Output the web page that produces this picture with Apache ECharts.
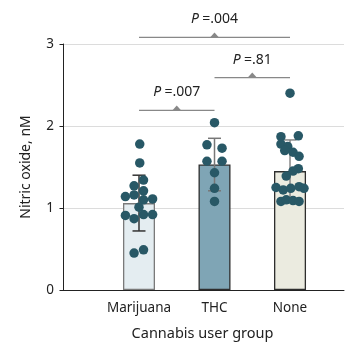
<!DOCTYPE html>
<html><head><meta charset="utf-8">
<script src="https://cdn.jsdelivr.net/npm/echarts@6/dist/echarts.min.js"></script>
<style>html,body{margin:0;padding:0;background:#fff}#c{width:358px;height:346px}</style>
</head><body><div id="c"></div>
<script>
const categories = ['Marijuana', 'THC', 'None'];
const means = [1.06, 1.53, 1.45];
const sds = [0.34, 0.32, 0.38];
const yTicks = [0, 1, 2, 3];
const marijuanaVals = [1.78, 1.55, 1.34, 1.27, 1.21, 1.16, 1.14, 1.10, 1.11, 1.01, 0.91, 0.87, 0.92, 0.92, 0.45, 0.49];
const marijuanaJitter = [0.01, 0.01, 0.06, -0.065, 0.06, -0.065, -0.18, 0.06, 0.18, 0, -0.18, -0.065, 0.06, 0.18, -0.065, 0.06];
const thcVals = [2.04, 1.77, 1.73, 1.57, 1.57, 1.43, 1.24, 1.08];
const thcJitter = [0, -0.10, 0.10, -0.10, 0.10, 0, 0, 0];
const noneVals = [2.40, 1.87, 1.88, 1.78, 1.75, 1.70, 1.68, 1.63, 1.48, 1.45, 1.39, 1.25, 1.22, 1.24, 1.26, 1.24, 1.08, 1.10, 1.09, 1.08];
const noneJitter = [0, -0.12, 0.11, -0.12, -0.03, -0.07, 0.04, 0.12, 0.11, 0.04, -0.05, -0.185, -0.09, 0.01, 0.12, 0.185, -0.12, -0.05, 0.04, 0.12];
const pFrom = [1, 2, 1];
const pTo = [3, 3, 2];
const pLevel = [3.08, 2.59, 2.19];
const pText = ['.004', '.81', '.007'];

const barFill = ['#e4edf1', '#7fa5b5', '#ebebe0'];
const barBorder = ['#7a7a7a', '#2e2e2e', '#2e2e2e'];
const errColor = ['#333333', '#777777', '#888888'];
const FONT = 'Noto Sans';

const groups = [marijuanaVals, thcVals, noneVals];
const jit = [marijuanaJitter, thcJitter, noneJitter];
const dots = [];
groups.forEach((g, gi) => g.forEach((v, i) => dots.push([gi + 1 + jit[gi][i], v])));

const chart = echarts.init(document.getElementById('c'), null, {renderer: 'canvas'});
chart.setOption({
  animation: false,
  grid: {left: 61, right: 14, top: 44, bottom: 50},
  xAxis: {
    type: 'value', min: -0.033, max: 3.715,
    name: 'Cannabis user group', nameLocation: 'middle', nameGap: 36,
    nameTextStyle: {fontFamily: FONT, fontSize: 14.5, color: '#222'},
    axisLine: {show: true, onZero: false, lineStyle: {color: '#222', width: 1}},
    axisTick: {show: false},
    splitLine: {show: false},
    axisLabel: {customValues: [1, 2, 3], formatter: v => categories[Math.round(v) - 1] || '',
      fontFamily: FONT, fontSize: 13.5, color: '#222', margin: 11}
  },
  yAxis: {
    type: 'value', min: 0, max: 3, interval: 1,
    name: 'Nitric oxide, nM', nameLocation: 'middle', nameGap: 28,
    nameTextStyle: {fontFamily: FONT, fontSize: 14, color: '#222'},
    axisLine: {show: true, lineStyle: {color: '#222', width: 1}},
    axisTick: {show: true, length: 4, lineStyle: {color: '#222'}},
    splitLine: {show: true, lineStyle: {color: '#dcdcdc', width: 1}},
    axisLabel: {customValues: yTicks, fontFamily: FONT, fontSize: 13.5, color: '#222', margin: 7}
  },
  series: [
    {
      type: 'bar', barWidth: 32, z: 2,
      data: means.map((m, i) => ({value: [i + 1, m], itemStyle: {color: barFill[i], borderColor: barBorder[i], borderWidth: 1.3}}))
    },
    {
      type: 'custom', z: 3, clip: false,
      data: means.map((m, i) => [i + 1, m, sds[i]]),
      renderItem: (params, api) => {
        const i = params.dataIndex;
        const x = api.value(0), m = api.value(1), s = api.value(2);
        const top = api.coord([x, m + s]), bot = api.coord([x, m - s]);
        const st = {stroke: errColor[i], lineWidth: 1.5};
        return {type: 'group', children: [
          {type: 'line', shape: {x1: top[0], y1: top[1], x2: bot[0], y2: bot[1]}, style: st},
          {type: 'line', shape: {x1: top[0] - 6.5, y1: top[1], x2: top[0] + 6.5, y2: top[1]}, style: st},
          {type: 'line', shape: {x1: bot[0] - 6.5, y1: bot[1], x2: bot[0] + 6.5, y2: bot[1]}, style: st}
        ]};
      }
    },
    {
      type: 'scatter', z: 4, symbolSize: 9.5,
      itemStyle: {color: '#285866', opacity: 1},
      data: dots
    },
    {
      type: 'custom', z: 5, clip: false,
      data: pFrom.map((f, i) => [f, pTo[i], pLevel[i]]),
      renderItem: (params, api) => {
        const i = params.dataIndex;
        const a = api.coord([api.value(0), api.value(2)]);
        const b = api.coord([api.value(1), api.value(2)]);
        const mx = (a[0] + b[0]) / 2, y = a[1];
        return {type: 'group', children: [
          {type: 'line', shape: {x1: a[0], y1: y, x2: b[0], y2: y}, style: {stroke: '#888', lineWidth: 1.2}},
          {type: 'polygon', shape: {points: [[mx - 4.5, y], [mx + 4.5, y], [mx, y - 5]]}, style: {fill: '#888'}},
          {type: 'text', x: mx, y: y - 18, style: {
            text: '{i|P} {n|=' + pText[i] + '}', align: 'center', verticalAlign: 'middle',
            rich: {
              i: {fontFamily: FONT, fontSize: 14, fontStyle: 'italic', fill: '#222'},
              n: {fontFamily: FONT, fontSize: 14, fill: '#222'}
            }
          }}
        ]};
      }
    }
  ]
});
</script>
</body></html>
